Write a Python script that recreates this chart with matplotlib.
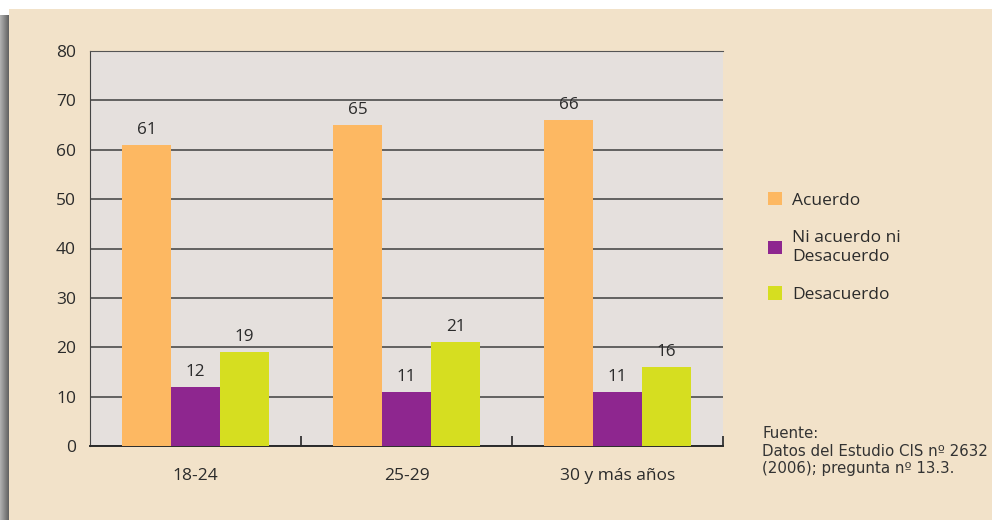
import numpy as np
import matplotlib.pyplot as plt
from matplotlib.patches import Rectangle

plt.rcParams['font.family'] = ['Open Sans', 'DejaVu Sans']

grupos = ['18-24', '25-29', '30 y más años']
series = ['Acuerdo', 'Ni acuerdo ni\nDesacuerdo', 'Desacuerdo']
acuerdo = [61, 65, 66]
ni_ni = [12, 11, 11]
desacuerdo = [19, 21, 16]
colores = ['#fdb862', '#8e268f', '#d6de20']

texto = '#2b2b2b'
fondo = '#f2e2c9'

fig = plt.figure(figsize=(9.92, 5.2), dpi=100, facecolor='white')

# panel beige con sombra gris a la izquierda
bg = fig.add_axes([0, 0, 1, 1], zorder=-10)
bg.axis('off')
bg.add_patch(Rectangle((9, 9), 983, 511, color=fondo, lw=0))
gris = np.linspace(0.70, 0.38, 32)
sombra = np.dstack([np.tile(gris, (32, 1))] * 3)
bg.imshow(sombra, extent=(0, 9, 520, 15), aspect='auto',
          interpolation='bilinear', zorder=1)
bg.set_xlim(0, 992)
bg.set_ylim(520, 0)

ax = fig.add_axes([90 / 992, 74 / 520, 633 / 992, 395 / 520])
ax.set_facecolor('#e5e0dd')

x = np.arange(len(grupos))
w = 0.232
for i, (vals, lab) in enumerate(zip([acuerdo, ni_ni, desacuerdo], series)):
    barras = ax.bar(x + (i - 1) * w, vals, w, color=colores[i], label=lab, zorder=3)
    ax.bar_label(barras, padding=5, fontsize=12.3, color=texto)

ax.set_xlim(-0.5, 2.5)
ax.set_ylim(0, 80)
ax.set_yticks(range(0, 81, 10))
ax.yaxis.grid(True, color='#3f3f3f', lw=1.1, zorder=1)
ax.set_axisbelow(True)

ax.set_xticks(x)
ax.set_xticklabels(grupos)
ax.set_xticks([0.5, 1.5, 2.5], minor=True)
ax.tick_params(axis='x', which='major', length=0, pad=16, labelsize=12.5, labelcolor=texto)
ax.tick_params(axis='x', which='minor', direction='in', length=7, width=1.3, color='#333333')
ax.tick_params(axis='y', length=0, pad=10, labelsize=12.5, labelcolor=texto)

ax.spines['right'].set_visible(False)
ax.spines['top'].set_color('#555555')
ax.spines['left'].set_color('#444444')
ax.spines['bottom'].set_color('#2a2a2a')
ax.spines['bottom'].set_linewidth(1.4)

ax.legend(loc='upper left', bbox_to_anchor=(752 / 992, 1 - 176 / 520),
          bbox_transform=fig.transFigure, frameon=False, fontsize=12.5,
          handlelength=0.85, handleheight=0.85, handletextpad=0.55,
          labelspacing=1.25, labelcolor=texto)

fig.text(762 / 992, 1 - 451 / 520,
         'Fuente:\nDatos del Estudio CIS nº 2632\n(2006); pregunta nº 13.3.',
         fontsize=10.8, color='#333333', va='center', linespacing=1.25,
         family=['DejaVu Sans'])

fig.savefig('out.png', dpi=100, facecolor='white')
